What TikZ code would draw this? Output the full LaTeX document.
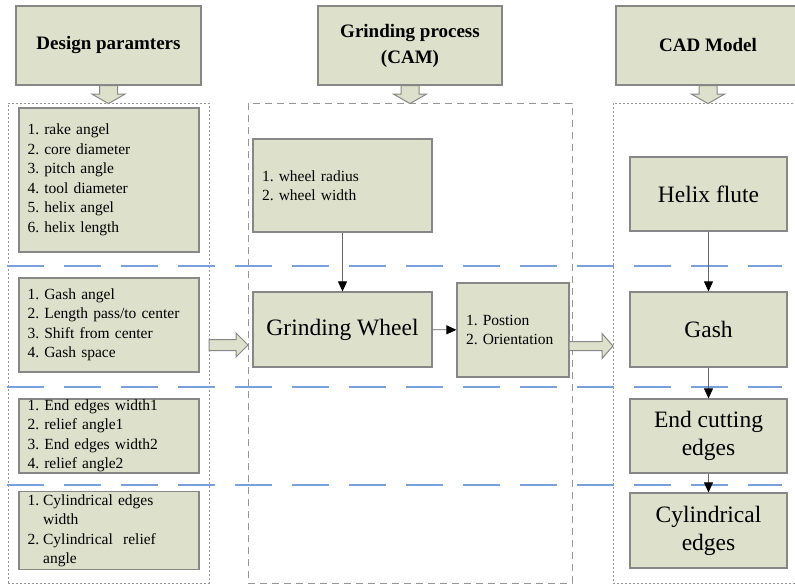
\documentclass[tikz,border=0pt]{standalone}
\usepackage{fontspec}
\setmainfont{Liberation Serif}
\usetikzlibrary{arrows.meta}
\definecolor{boxfill}{RGB}{221,224,203}
\definecolor{boxline}{RGB}{135,135,135}
\definecolor{sepblue}{RGB}{120,160,220}
\definecolor{contline}{RGB}{150,150,150}
\frenchspacing
\tikzset{
  box/.style={draw=boxline, fill=boxfill, line width=1.2pt, rectangle, inner sep=0pt},
  hdbox/.style={box, minimum height=79pt, align=center,
    font=\fontsize{19}{26}\selectfont\bfseries},
  listbox/.style={box, inner xsep=8.5pt, align=left,
    font=\fontsize{15.5}{19.5}\selectfont},
  bigbox/.style={box, align=center, font=\fontsize{23.5}{28}\selectfont},
  dotcont/.style={draw=contline, line width=0.9pt, dash pattern=on 2pt off 2pt, rectangle, inner sep=0pt},
  dashcont/.style={draw=contline, line width=0.9pt, dash pattern=on 7pt off 5pt, rectangle, inner sep=0pt},
  sep/.style={draw=sepblue, line width=2pt, dash pattern=on 37pt off 20pt},
  arr/.style={draw=gray!80!black, line width=0.8pt, -{Triangle[width=9pt,length=10pt,fill=black,color=black]}},
  blockarrow/.style={draw=boxline, fill=boxfill, line width=1pt, line join=miter}
}
\begin{document}
\begin{tikzpicture}[x=1pt,y=-1pt]
\clip (0,0) rectangle (795,586);
\fill[white] (0,0) rectangle (795,586);

% containers
\node[dotcont, minimum width=201pt, minimum height=480pt] (cont1) at (108.5,343) {};
\node[dashcont, minimum width=324pt, minimum height=480pt] (cont2) at (410,343) {};
\node[dotcont, minimum width=190pt, minimum height=480pt] (cont3) at (708,343) {};

% separators
\coordinate (s1a) at (7,266); \coordinate (s1b) at (782,266);
\coordinate (s2a) at (7,387); \coordinate (s2b) at (782,387);
\coordinate (s3a) at (7,485); \coordinate (s3b) at (782,485);
\draw[sep] (s1a) -- (s1b);
\draw[sep] (s2a) -- (s2b);
\draw[sep] (s3a) -- (s3b);

% headers
\node[hdbox, minimum width=185pt] (hd1) at (108.5,45.5) {Design paramters};
\node[hdbox, minimum width=184pt] (hd2) at (410,45.5) {Grinding process\\(CAM)};
\node[hdbox, minimum width=184pt] (hd3) at (708,45.5) {CAD Model};

% header arrows
\foreach \h in {hd1,hd2,hd3}{
  \draw[blockarrow] (\h.south) ++(-9,0) -- ++(0,8.5) -- ++(-7.5,0) -- ++(16.5,9.5)
    -- ++(16.5,-9.5) -- ++(-7.5,0) -- ++(0,-8.5) -- cycle;
}

% left column
\node[listbox, text width=163pt, minimum width=180pt, minimum height=144pt] (rake) at (109,180)
  {1. rake angel\\2. core diameter\\3. pitch angle\\4. tool diameter\\5. helix angel\\6. helix length};
\node[listbox, text width=163pt, minimum width=180pt, minimum height=94pt] (gashp) at (109,325)
  {1. Gash angel\\2. Length pass/to center\\3. Shift from center\\4. Gash space};
\node[listbox, text width=163pt, minimum width=180pt, minimum height=74pt] (endp) at (109,436)
  {1. End edges width1\\2. relief angle1\\3. End edges width2\\4. relief angle2};
\node[listbox, text width=163pt, minimum width=180pt, minimum height=75pt] (cylp) at (109,530.5)
  {\begin{tabular}{@{}l@{\hspace{4pt}}l@{}}1. & Cylindrical edges\\ & width\\2. & Cylindrical\ \ relief\\ & angle\end{tabular}};

% middle column
\node[listbox, text width=161pt, minimum width=179pt, minimum height=93pt] (wheel) at (342.5,185.5)
  {1. wheel radius\\2. wheel width};
\node[bigbox, minimum width=179pt, minimum height=75pt] (gw) at (342.5,329.5) {Grinding Wheel};
\node[listbox, text width=94pt, minimum width=112pt, minimum height=94pt] (pos) at (513,330)
  {1. Postion\\2. Orientation};

% right column
\node[bigbox, minimum width=157pt, minimum height=74pt] (helix) at (708.5,194) {Helix flute};
\node[bigbox, minimum width=157pt, minimum height=75pt] (gash) at (708.5,329.5) {Gash};
\node[bigbox, minimum width=157pt, minimum height=74pt] (endc) at (708.5,436) {End cutting\\edges};
\node[bigbox, minimum width=157pt, minimum height=75pt] (cyle) at (708.5,530.5) {Cylindrical\\edges};

% thin arrows
\draw[arr] (wheel) -- (gw);
\draw[arr] (gw) -- (pos);
\draw[arr] (helix) -- (gash);
\draw[arr] (gash) -- (endc);
\draw[arr] (endc) -- (cyle);

% block arrows between columns
\coordinate (la) at (209,345);
\draw[blockarrow] (la) ++(0,-5.5) -- ++(27,0) -- ++(0,-6.5) -- ++(12,12) -- ++(-12,12)
  -- ++(0,-6.5) -- ++(-27,0) -- cycle;
\coordinate (ra) at (569,346);
\draw[blockarrow] (ra) ++(0,-4.5) -- ++(33,0) -- ++(0,-8) -- ++(11,12.5) -- ++(-11,12.5)
  -- ++(0,-8) -- ++(-33,0) -- cycle;
\end{tikzpicture}
\end{document}
